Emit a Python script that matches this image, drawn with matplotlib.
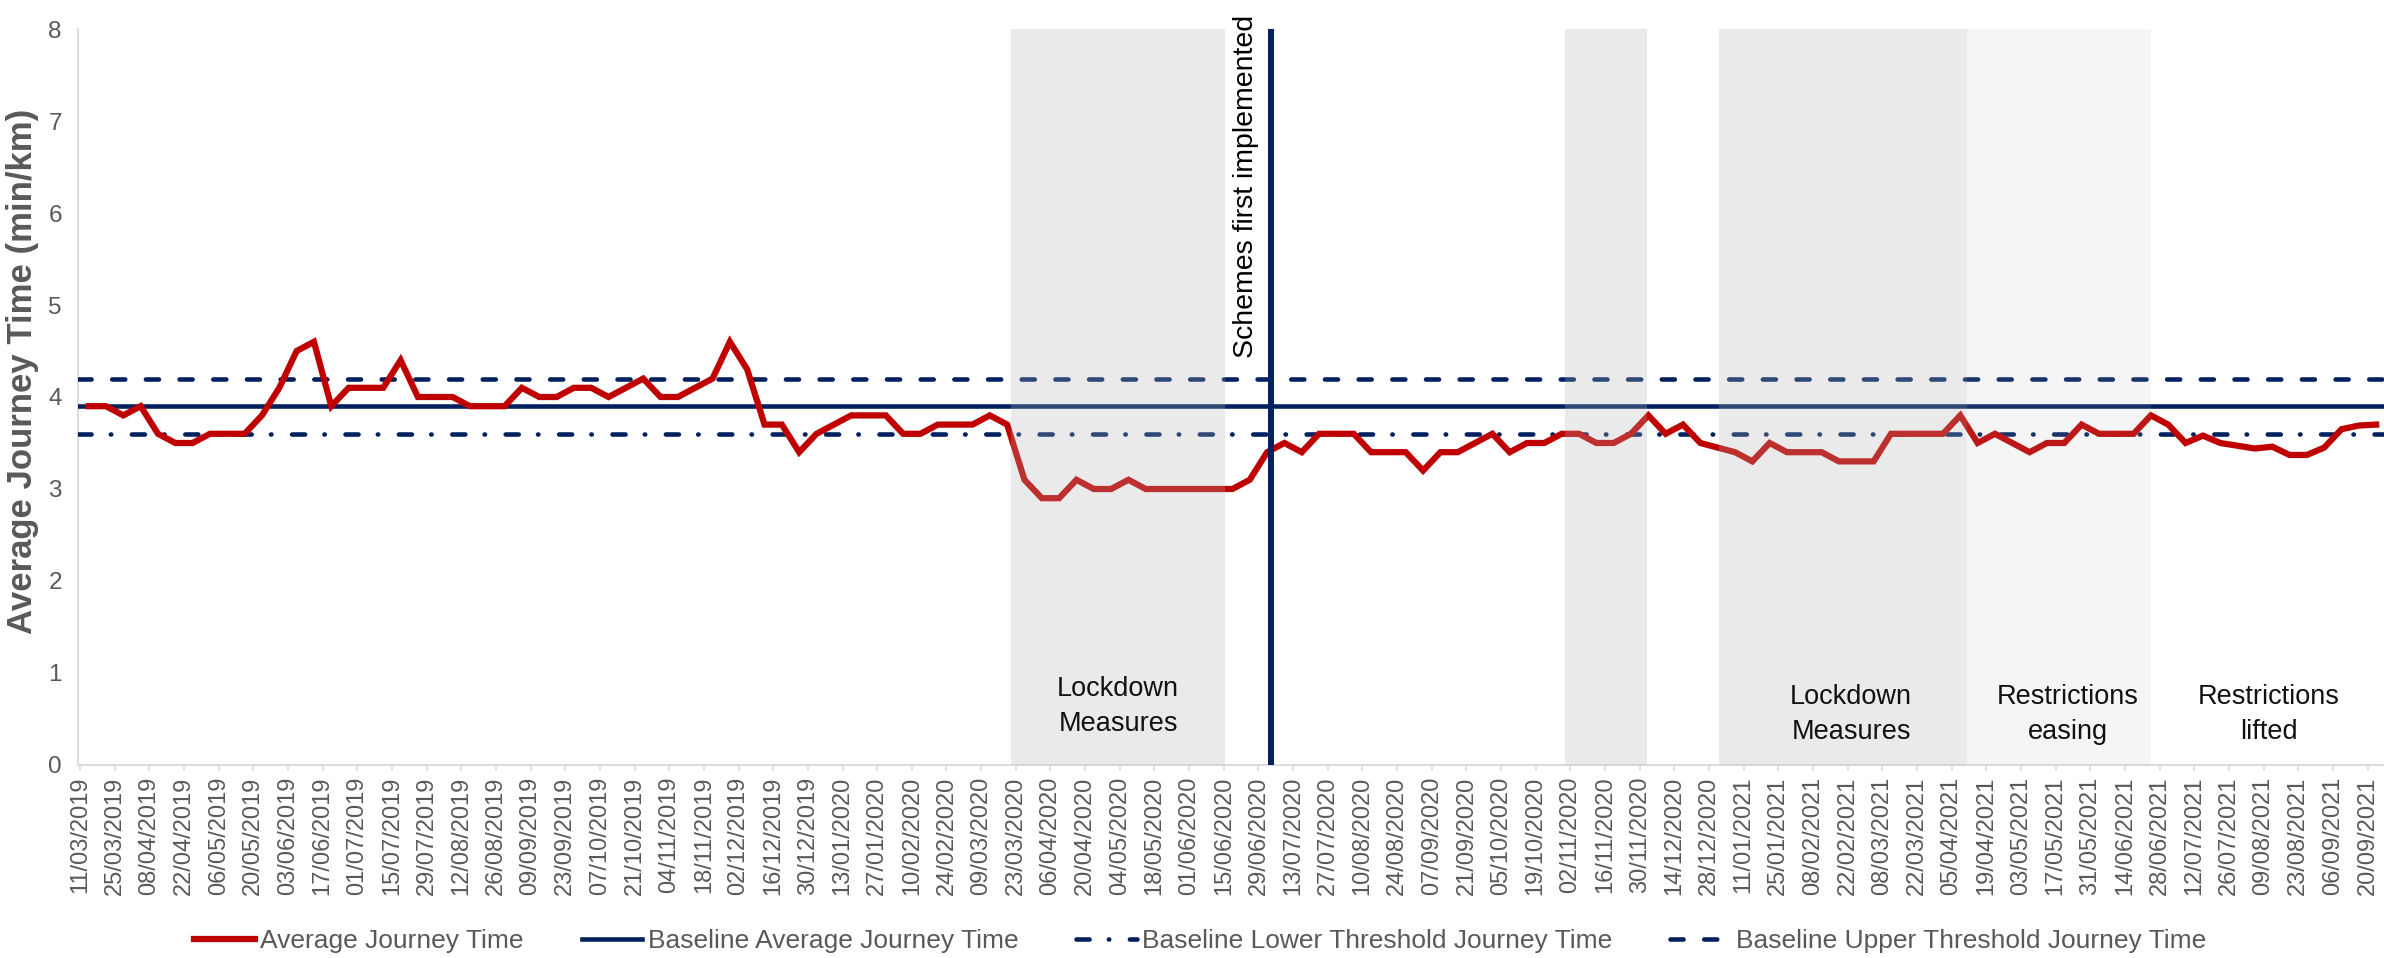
import numpy as np
import pandas as pd
import matplotlib
matplotlib.use('Agg')
import matplotlib.pyplot as plt
from matplotlib import font_manager
from matplotlib.lines import Line2D

# weekly observations, 11/03/2019 .. 20/09/2021
weeks = pd.date_range('2019-03-11', periods=133, freq='7D')
journey_time = [
    3.9, 3.9, 3.8, 3.9, 3.6, 3.5, 3.5, 3.6, 3.6, 3.6,
    3.8, 4.1, 4.5, 4.6, 3.9, 4.1, 4.1, 4.1, 4.4, 4.0,
    4.0, 4.0, 3.9, 3.9, 3.9, 4.1, 4.0, 4.0, 4.1, 4.1,
    4.0, 4.1, 4.2, 4.0, 4.0, 4.1, 4.2, 4.6, 4.3, 3.7,
    3.7, 3.4, 3.6, 3.7, 3.8, 3.8, 3.8, 3.6, 3.6, 3.7,
    3.7, 3.7, 3.8, 3.7, 3.1, 2.9, 2.9, 3.1, 3.0, 3.0,
    3.1, 3.0, 3.0, 3.0, 3.0, 3.0, 3.0, 3.1, 3.4, 3.5,
    3.4, 3.6, 3.6, 3.6, 3.4, 3.4, 3.4, 3.2, 3.4, 3.4,
    3.5, 3.6, 3.4, 3.5, 3.5, 3.6, 3.6, 3.5, 3.5, 3.6,
    3.8, 3.6, 3.7, 3.5, 3.45, 3.4, 3.3, 3.5, 3.4, 3.4,
    3.4, 3.3, 3.3, 3.3, 3.6, 3.6, 3.6, 3.6, 3.8, 3.5,
    3.6, 3.5, 3.4, 3.5, 3.5, 3.7, 3.6, 3.6, 3.6, 3.8,
    3.7, 3.5, 3.58, 3.5, 3.47, 3.44, 3.46, 3.37, 3.37, 3.45,
    3.65, 3.69, 3.7,
]
baseline_avg = 3.9
baseline_lower = 3.6
baseline_upper = 4.2

# periods in week index units
scheme_start = 68.2
dark_periods = [(53.2, 65.6), (85.2, 89.9), (94.1, 108.4)]
light_periods = [(108.4, 119.0)]
period_labels = [
    (59.4, 0.64, 'Lockdown\nMeasures'),
    (101.7, 0.55, 'Lockdown\nMeasures'),
    (114.2, 0.55, 'Restrictions\neasing'),
    (125.8, 0.55, 'Restrictions\nlifted'),
]

RED = '#C00000'
NAVY = '#002060'
GREY_TXT = '#595959'
AXIS_GREY = '#D9D9D9'

LOWER_DASH = (2.85, 4.2, 0.1, 4.5)
UPPER_DASH = (2.85, 4.5)

plt.rcParams['font.family'] = ['Liberation Sans', 'DejaVu Sans']
names = {f.name for f in font_manager.fontManager.ttflist}
if 'Liberation Sans Narrow' in names:
    leg_font = {'family': 'Liberation Sans Narrow', 'size': 24.5}
else:
    leg_font = {'family': 'Liberation Sans', 'size': 19}

fig = plt.figure(figsize=(23.84, 9.58), dpi=100)
ax = fig.add_axes([0.0329, 0.2015, 0.9671, 0.7682])

x = np.arange(len(journey_time))
ax.plot(x, journey_time, color=RED, lw=4.5, solid_joinstyle='miter', zorder=4)
ax.axhline(baseline_avg, color=NAVY, lw=3.3, zorder=3)
ax.axhline(baseline_lower, color=NAVY, lw=3.3, dashes=LOWER_DASH,
           dash_capstyle='round', zorder=3)
ax.axhline(baseline_upper, color=NAVY, lw=3.3, dashes=UPPER_DASH,
           dash_capstyle='round', zorder=3)
ax.axvline(scheme_start, color=NAVY, lw=4.3, zorder=6)

for a, b in dark_periods:
    ax.axvspan(a, b, color='#B4B4B4', alpha=0.27, lw=0, zorder=5)
for a, b in light_periods:
    ax.axvspan(a, b, color='#B4B4B4', alpha=0.13, lw=0, zorder=5)

for px, py, txt in period_labels:
    ax.text(px, py, txt, ha='center', va='center', fontsize=19.5,
            color='#111111', linespacing=1.45, zorder=7)

ax.text(scheme_start - 1.4, 4.42, 'Schemes first implemented', rotation=90,
        ha='center', va='bottom', fontsize=20.5, color='black', zorder=7,
        clip_on=False)

ax.set_xlim(-0.59, 132.45)
ax.set_ylim(0, 8)
ax.set_yticks(range(0, 9))
ax.set_xticks(np.arange(0, len(weeks), 2) - 0.5)
ax.set_xticklabels(weeks[::2].strftime('%d/%m/%Y'), rotation=90)
ax.tick_params(axis='x', length=4.3, width=1.1, color=AXIS_GREY,
               labelcolor=GREY_TXT, labelsize=17, pad=4)
ax.tick_params(axis='y', length=0, labelcolor=GREY_TXT, labelsize=17.5, pad=12)

for s in ['top', 'right']:
    ax.spines[s].set_visible(False)
for s in ['left', 'bottom']:
    ax.spines[s].set_color(AXIS_GREY)
    ax.spines[s].set_linewidth(1.3)

ax.set_ylabel('Average Journey Time (min/km)', fontsize=25, fontweight='bold',
              color=GREY_TXT)
ax.yaxis.set_label_coords(-0.0172, 0.535)

handles = [
    Line2D([], [], color=RED, lw=4.5),
    Line2D([], [], color=NAVY, lw=3.3),
    Line2D([], [], color=NAVY, lw=3.3, dashes=LOWER_DASH, dash_capstyle='round'),
    Line2D([], [], color=NAVY, lw=3.3, dashes=UPPER_DASH, dash_capstyle='round'),
]
labels = ['Average Journey Time', 'Baseline Average Journey Time',
          'Baseline Lower Threshold Journey Time', 'Baseline Upper Threshold Journey Time']
leg = fig.legend(handles, labels, loc='center', bbox_to_anchor=(0.5035, 0.018),
                 ncol=4, frameon=False, prop=leg_font, handlelength=2.3,
                 handletextpad=0.2, columnspacing=2.2)
for t in leg.get_texts():
    t.set_color(GREY_TXT)

fig.savefig('out.png', dpi=100)
